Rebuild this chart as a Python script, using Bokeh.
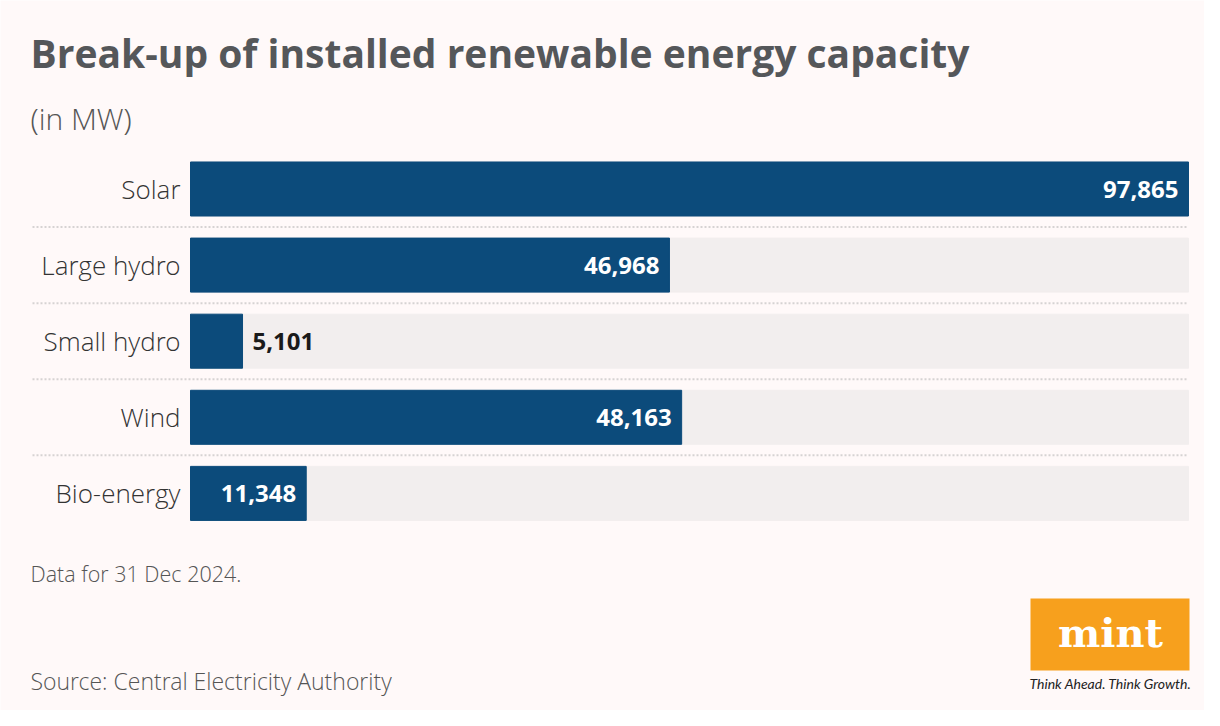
from bokeh.plotting import figure
from bokeh.models import Range1d, Label, BoxAnnotation, ColumnDataSource
from bokeh.core.properties import value
from bokeh.embed import file_html
from bokeh.resources import INLINE

categories = ["Solar", "Large hydro", "Small hydro", "Wind", "Bio-energy"]
capacity_mw = [97865, 46968, 5101, 48163, 11348]
value_labels = ["97,865", "46,968", "5,101", "48,163", "11,348"]
inside_label = [True, True, False, True, True]

W, H = 1204, 710
BG = "#FFF9F9"
BAR = "#0C4B7B"
TRACK = "#F2EEEE"
LIGHT = "Open Sans Light"

vmax = max(capacity_mw)
x0_px, x1_px = 190, 1188
k = (x1_px - x0_px) / vmax
x_range = Range1d(-x0_px / k, (W - x0_px) / k)

row0_px, pitch = 188.5, 76.1
y_range = Range1d((H - row0_px) / pitch, -row0_px / pitch)

p = figure(width=W, height=H, x_range=x_range, y_range=y_range,
           output_backend="svg", toolbar_location=None, min_border=0,
           background_fill_color=BG, border_fill_color=BG, outline_line_color=None)
p.axis.visible = False
p.grid.visible = False

ys = list(range(len(categories)))
src = ColumnDataSource(dict(
    y=ys, cat=categories, v=capacity_mw, lab=value_labels,
    track=[vmax] * len(categories)))

p.hbar(y="y", left=0, right="track", height=0.71, source=src, color=TRACK)
p.hbar(y="y", left=0, right="v", height=0.71, source=src, color=BAR)

# separators
sep_y = [i + 0.5 for i in ys[:-1]]
p.segment(x0=[(32 - x0_px) / k] * len(sep_y), x1=[vmax] * len(sep_y), y0=sep_y, y1=sep_y,
          line_color="#D6D3D3", line_width=2, line_dash="2 2")

p.text(x=0, y="y", text="cat", source=src, x_offset=-10, text_align="right",
       text_baseline="middle", text_font=value(LIGHT), text_font_size="26px",
       text_color="#333333")

ins = [i for i in ys if inside_label[i]]
outs = [i for i in ys if not inside_label[i]]
p.text(x=[capacity_mw[i] for i in ins], y=ins, text=[value_labels[i] for i in ins],
       x_offset=-10, text_align="right", text_baseline="middle",
       text_font=value("Open Sans"), text_font_style="bold", text_font_size="24px",
       text_color="white")
p.text(x=[capacity_mw[i] for i in outs], y=outs, text=[value_labels[i] for i in outs],
       x_offset=10, text_align="left", text_baseline="middle",
       text_font=value("Open Sans"), text_font_style="bold", text_font_size="24px",
       text_color="#1A1A1A")

def lab(text, x, y, size, color, style="normal", font="Open Sans", align="left"):
    p.add_layout(Label(x=x, y=y, x_units="screen", y_units="screen", text=text,
                       text_font=font, text_font_size=size, text_color=color,
                       text_font_style=style, text_align=align,
                       text_baseline="alphabetic"))

lab("Break-up of installed renewable energy capacity", 30, H - 52, "39px", "#55575A", "bold")
lab("(in MW)", 30, H - 118, "30px", "#555555", font=LIGHT)
lab("Data for 31 Dec 2024.", 30, H - 573, "21.5px", "#555555", font=LIGHT)
lab("Source: Central Electricity Authority", 30, H - 680, "23px", "#555555", font=LIGHT)

p.add_layout(BoxAnnotation(left=1030, right=1189, top=H - 598, bottom=H - 670,
                           left_units="screen", right_units="screen",
                           top_units="screen", bottom_units="screen",
                           fill_color="#F7A01D", fill_alpha=1, line_color=None))
lab("mint", 1110, H - 632, "40px", "white", "bold", "DejaVu Serif", "center")
lab("Think Ahead. Think Growth.", 1110, H - 683, "14px", "#222222", "italic", "Lato", "center")

html = file_html(p, INLINE, title="Break-up of installed renewable energy capacity")
html = html.replace("<body>", '<body style="background:#FFF9F9">', 1)
open("out.html", "w").write(html)
